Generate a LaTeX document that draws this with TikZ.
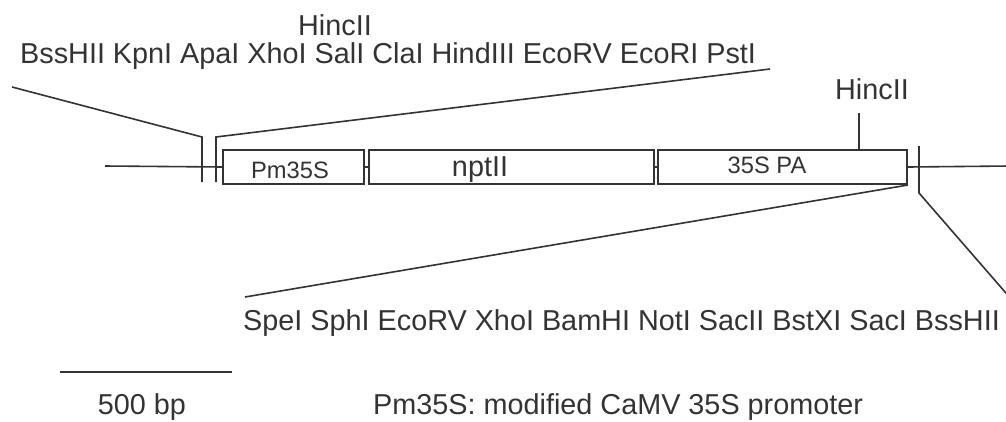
\documentclass[tikz,border=0pt]{standalone}
\usepackage{fontspec}
\setmainfont{Liberation Sans}
\definecolor{ink}{HTML}{333333}
\tikzset{
  txt/.style={inner sep=0pt, anchor=base west, text=ink, font=\fontsize{28.8}{34}\selectfont},
  txtc/.style={inner sep=0pt, anchor=base, text=ink, font=\fontsize{28.8}{34}\selectfont},
  smalltxt/.style={inner sep=0pt, anchor=base, text=ink, font=\fontsize{23.7}{28}\selectfont},
  seg/.style={draw=ink, line width=1.6pt},
  gene/.style={draw=ink, line width=2pt, rectangle, inner sep=0pt, minimum height=34pt, anchor=north west}
}
\begin{document}
\begin{tikzpicture}[x=1pt,y=-1pt]
\useasboundingbox (0,0) rectangle (1006,421);
% gene boxes
\node[gene, minimum width=141pt] (pm) at (222,149) {};
\node[gene, minimum width=285pt] (npt) at (368,149) {};
\node[gene, minimum width=249pt] (pa) at (657,149) {};
\node[smalltxt] (pmlbl) at (290,178) {Pm35S};
\node[txtc] (nptlbl) at (480,176) {nptII};
\node[smalltxt] (palbl) at (767,173) {35S PA};
% backbone
\coordinate (lend) at (105,166);
\coordinate (rend) at (1010,166);
\draw[seg] (lend) -- (pm.west);
\draw[seg] (pm.east) -- (npt.west);
\draw[seg] (npt.east) -- (pa.west);
\draw[seg] (pa.east) -- (rend);
% left cloning sites
\coordinate (ta1) at (202,137);
\coordinate (ta2) at (202,182);
\coordinate (tb1) at (216,137);
\coordinate (tb2) at (216,182);
\coordinate (la) at (12,87);
\coordinate (lb) at (770,69);
\draw[seg] (la) -- (ta1) -- (ta2);
\draw[seg] (lb) -- (tb1) -- (tb2);
% right cloning sites
\coordinate (tc1) at (919,146);
\coordinate (tc2) at (919,193);
\coordinate (lc) at (1012,300);
\coordinate (ld) at (245,297);
\draw[seg] (tc1) -- (tc2) -- (lc);
\draw[seg] (pa.south east) -- (ld);
% HincII site in 35S PA
\coordinate (h1) at (859,113);
\draw[seg] (h1) -- (h1 |- pa.north);
\node[txtc] (hinc2) at (872,99) {HincII};
% site labels
\node[txtc] (hinc1) at (335,35) {HincII};
\node[txt] (top) at (20,63) {BssHII KpnI ApaI XhoI SalI ClaI HindIII EcoRV EcoRI PstI};
\node[txt] (bot) at (243,330) {SpeI SphI EcoRV XhoI BamHI NotI SacII BstXI SacI BssHII};
% scale bar and legend
\coordinate (s1) at (60,372);
\coordinate (s2) at (232,372);
\draw[seg, line width=2pt] (s1) -- (s2);
\node[txtc] (bp) at (142,414) {500 bp};
\node[txt] (legend) at (373,414) {Pm35S: modified CaMV 35S promoter};
\end{tikzpicture}
\end{document}
